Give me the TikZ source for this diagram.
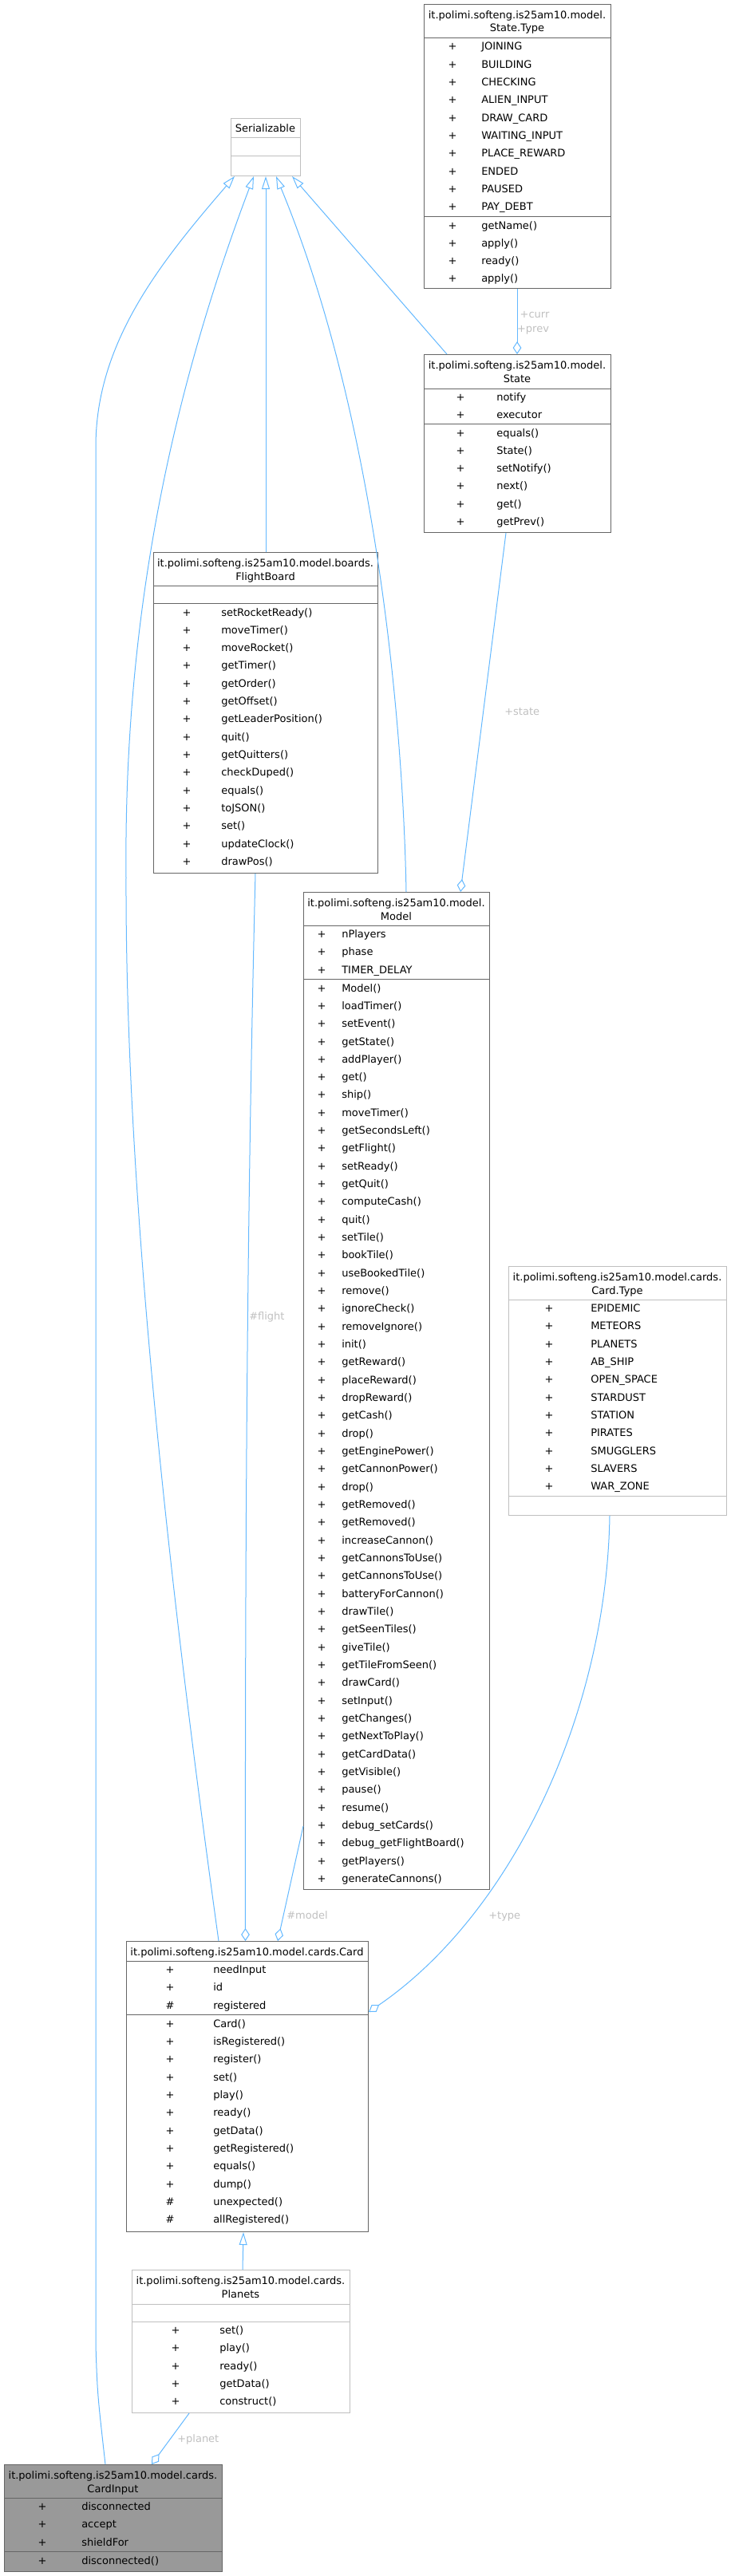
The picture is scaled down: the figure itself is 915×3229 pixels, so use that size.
\documentclass[tikz,border=0pt]{standalone}
\usepackage{fontspec}
\setmainfont{DejaVu Sans}
\usetikzlibrary{arrows.meta,calc}

\definecolor{linkblue}{HTML}{63B8FF}
\definecolor{boxdark}{HTML}{666666}
\definecolor{boxlight}{HTML}{BFBFBF}
\definecolor{boxfill}{HTML}{999999}
\definecolor{lblgray}{HTML}{C0C0C0}

\tikzset{
  every node/.style={font=\fontsize{9.75}{11.7}\selectfont, inner sep=0pt},
  dkbox/.style={draw=boxdark, line width=0.75pt, fill=white},
  ltbox/.style={draw=boxlight, line width=0.75pt, fill=white},
  inbox/.style={draw=boxdark, line width=0.75pt, fill=boxfill},
  rel/.style={draw=linkblue, line width=0.75pt},
  isa/.style={rel, -{Triangle[open, length=12pt, width=7.5pt]}},
  has/.style={rel, -{Diamond[open, length=12pt, width=8pt]}},
  lbl/.style={text=lblgray, anchor=base west},
}

% nome, stile, sinistra, destra, alto, basso, separatori
\newcommand{\classbox}[7]{%
  \node[#2, anchor=north west, minimum width={(#4-#3)*0.75pt},
        minimum height={(#6-#5)*0.75pt}] (#1) at (#3,#5) {};
  \foreach \dv in {#7} {\draw[#2] (#3,\dv) -- (#4,\dv);}
}
% nome, centro x, prima linea di base, righe del titolo
\newcommand{\classtitle}[4]{%
  \foreach \lin [count=\i from 0] in {#4} {
    \node[anchor=base] (#1-t\i) at (#2,#3+16.5*\i) {\lin};}
}
% nome, visibilita', x segno, x testo, y prima riga, voci
\newcommand{\classrows}[6]{%
  \foreach \itm [count=\i from 0] in {#6} {
    \node[anchor=base] (#1-s\i) at (#3,#5+4.5+22.33*\i) {#2};
    \node[anchor=base west] (#1-n\i) at (#4,#5+4.5+22.33*\i) {\itm};}
}

\begin{document}
\begin{tikzpicture}[x=0.75pt,y=-0.75pt]
\useasboundingbox (0,0) rectangle (915,3229);

%classi
\classbox{ser}{ltbox}{289}{376}{148}{220}{173,195}
\classtitle{ser}{332.5}{165.5}{Serializable}

\classbox{stt}{dkbox}{531}{765}{5}{361}{48,271}
\classtitle{stt}{648}{23.5}{it.polimi.softeng.is25am10.model., State.Type}
\classrows{stt-a}{+}{567}{603}{58.5}{JOINING, BUILDING, CHECKING, ALIEN\_INPUT, DRAW\_CARD,
  WAITING\_INPUT, PLACE\_REWARD, ENDED, PAUSED, PAY\_DEBT}
\classrows{stt-o}{+}{567}{603}{282.5}{getName(), apply(), ready(), apply()}

\classbox{state}{dkbox}{531}{765}{444}{667}{487,531}
\classtitle{state}{648}{462.5}{it.polimi.softeng.is25am10.model., State}
\classrows{state-a}{+}{577}{622}{497.5}{notify, executor}
\classrows{state-o}{+}{577}{622}{542.5}{equals(), State(), setNotify(), next(), get(), getPrev()}

\classbox{fb}{dkbox}{192}{473}{692}{1094}{734,756}
\classtitle{fb}{332.5}{710.5}{it.polimi.softeng.is25am10.model.boards., FlightBoard}
\classrows{fb-o}{+}{234}{277}{767.5}{setRocketReady(), moveTimer(), moveRocket(), getTimer(),
  getOrder(), getOffset(), getLeaderPosition(), quit(), getQuitters(), checkDuped(),
  equals(), toJSON(), set(), updateClock(), drawPos()}

\classbox{model}{dkbox}{380}{613}{1118}{2368}{1160,1227}
\classtitle{model}{496.5}{1136.5}{it.polimi.softeng.is25am10.model., Model}
\classrows{model-a}{+}{403}{428}{1171}{nPlayers, phase, TIMER\_DELAY}
\classrows{model-o}{+}{403}{428}{1238.5}{Model(), loadTimer(), setEvent(), getState(),
  addPlayer(), get(), ship(), moveTimer(), getSecondsLeft(), getFlight(), setReady(),
  getQuit(), computeCash(), quit(), setTile(), bookTile(), useBookedTile(), remove(),
  ignoreCheck(), removeIgnore(), init(), getReward(), placeReward(), dropReward(),
  getCash(), drop(), getEnginePower(), getCannonPower(), drop(), getRemoved(),
  getRemoved(), increaseCannon(), getCannonsToUse(), getCannonsToUse(),
  batteryForCannon(), drawTile(), getSeenTiles(), giveTile(), getTileFromSeen(),
  drawCard(), setInput(), getChanges(), getNextToPlay(), getCardData(), getVisible(),
  pause(), resume(), debug\_setCards(), debug\_getFlightBoard(), getPlayers(),
  generateCannons()}

\classbox{ctype}{ltbox}{637}{910}{1587}{1899}{1629,1875}
\classtitle{ctype}{773.5}{1605.5}{it.polimi.softeng.is25am10.model.cards., Card.Type}
\classrows{ctype-a}{+}{688}{740}{1640}{EPIDEMIC, METEORS, PLANETS, AB\_SHIP, OPEN\_SPACE,
  STARDUST, STATION, PIRATES, SMUGGLERS, SLAVERS, WAR\_ZONE}

\classbox{card}{dkbox}{158}{461}{2433}{2797}{2458,2525}
\classtitle{card}{309.5}{2451.5}{it.polimi.softeng.is25am10.model.cards.Card}
\classrows{card-a}{+}{213}{267}{2469}{needInput, id}
\classrows{card-b}{\#}{213}{267}{2513.7}{registered}
\classrows{card-o}{+}{213}{267}{2536.5}{Card(), isRegistered(), register(), set(), play(),
  ready(), getData(), getRegistered(), equals(), dump()}
\classrows{card-p}{\#}{213}{267}{2759.8}{unexpected(), allRegistered()}

\classbox{planets}{ltbox}{165}{438}{2845}{3024}{2888,2910}
\classtitle{planets}{301.5}{2863.5}{it.polimi.softeng.is25am10.model.cards., Planets}
\classrows{planets-o}{+}{220}{275}{2921}{set(), play(), ready(), getData(), construct()}

\classbox{cin}{inbox}{5}{278}{3089}{3223}{3131,3198}
\classtitle{cin}{141.5}{3107.5}{it.polimi.softeng.is25am10.model.cards., CardInput}
\classrows{cin-a}{+}{53}{102}{3142}{disconnected, accept, shieldFor}
\classrows{cin-o}{+}{53}{102}{3209.5}{disconnected()}

%generalizzazioni
\draw[isa] ($(cin.north west)+(127,0)$) .. controls (122,3000) .. (120,2940) -- (120,560)
  .. controls (120,430) and (200,330) .. ($(ser.south west)+(5,0)$);
\draw[isa] ($(card.north west)+(116,0)$) .. controls (200,1900) and (157,1450) .. (158,1100)
  .. controls (155,800) and (205,520) .. ($(ser.south west)+(29,0)$);
\draw[isa] (fb.north) -- (ser.south);
\draw[isa] ($(model.north west)+(129,0)$) .. controls (505,900) and (470,520) .. ($(ser.south west)+(57,0)$);
\draw[isa] ($(state.north west)+(29,0)$) -- ($(ser.south west)+(77,0)$);
\draw[isa] ($(planets.north west)+(139,0)$) -- ($(card.south west)+(147,0)$);

%aggregazioni
\draw[has] ($(stt.south west)+(117,0)$) -- ($(state.north west)+(117,0)$);
\draw[has] ($(state.south west)+(103,0)$) -- ($(model.north west)+(197,0)$);
\draw[has] ($(fb.south west)+(128,0)$) .. controls (310,1500) and (307,1900) .. ($(card.north west)+(149.5,0)$);
\draw[has] ($(model.south west)+(0,-80)$) -- ($(card.north west)+(190,0)$);
\draw[has] ($(ctype.south west)+(127,0)$) .. controls (760,2150) and (640,2400) .. ($(card.north east)+(0,89)$);
\draw[has] ($(planets.south west)+(72,0)$) -- ($(cin.north west)+(185,0)$);

%etichette
\node[lbl, anchor=base] (l-curr) at (670,398.5) {+curr};
\node[lbl, anchor=base] (l-prev) at (668,416.5) {+prev};
\node[lbl] (l-state) at (632,896.5) {+state};
\node[lbl] (l-flight) at (312,1654) {\#flight};
\node[lbl] (l-model) at (359,2405.5) {\#model};
\node[lbl] (l-type) at (612,2405) {+type};
\node[lbl] (l-planet) at (222,3061.5) {+planet};
\end{tikzpicture}
\end{document}
